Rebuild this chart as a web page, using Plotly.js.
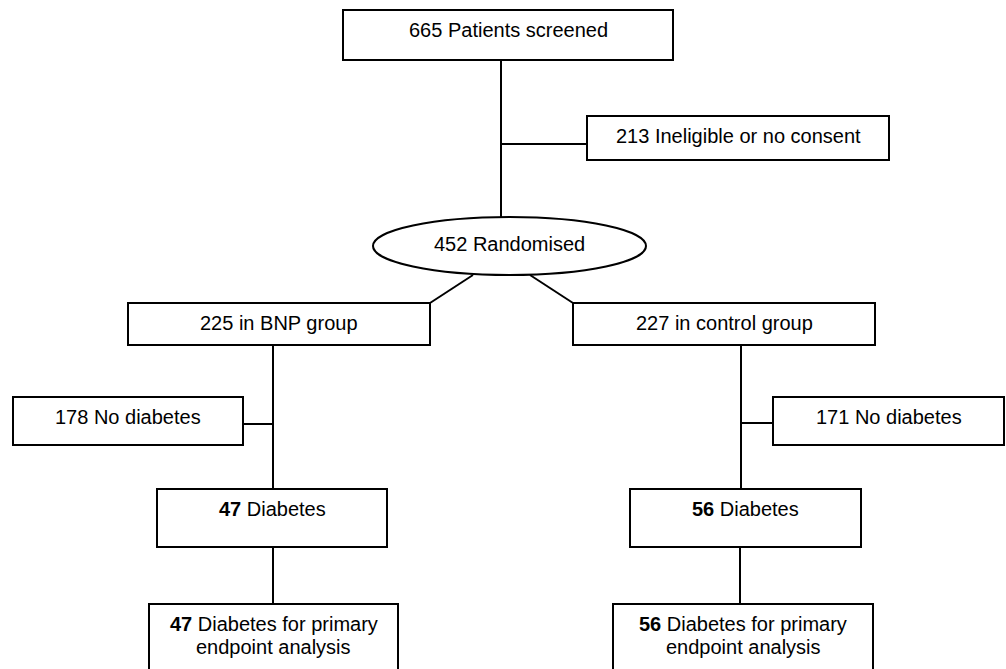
<!DOCTYPE html>
<html>
<head>
<meta charset="utf-8">
<script src="https://cdn.plot.ly/plotly-3.0.1.min.js"></script>
<style>html,body{margin:0;padding:0;background:#fff;}#chart{width:1006px;height:669px;}</style>
</head>
<body>
<div id="chart"></div>
<script>
// ---- data (numbers and texts of the flow diagram) ----
const nodeIds    = ['screened','excluded','randomised','bnp','control','bnpNoDm','ctlNoDm','bnpDm','ctlDm','bnpPrimary','ctlPrimary'];
const nodeCounts = [665, 213, 452, 225, 227, 178, 171, 47, 56, 47, 56];
const nodeLabels = ['Patients screened','Ineligible or no consent','Randomised','in BNP group','in control group',
                    'No diabetes','No diabetes','Diabetes','Diabetes','Diabetes for primary<br>endpoint analysis','Diabetes for primary<br>endpoint analysis'];
const countBold  = [false,false,false,false,false,false,false,true,true,true,true];

// ---- layout geometry (pixels in chart space) ----
const geom = {
  screened:   {x0:343, x1:673, y0:10,  y1:60,  ty:30,  shape:'rect'},
  excluded:   {x0:587, x1:889, y0:116, y1:160, ty:136, shape:'rect'},
  randomised: {x0:373, x1:646, y0:217, y1:275, ty:244, shape:'circle'},
  bnp:        {x0:128, x1:430, y0:303, y1:345, ty:323, shape:'rect'},
  control:    {x0:573, x1:875, y0:303, y1:345, ty:323, shape:'rect'},
  bnpNoDm:    {x0:13,  x1:243, y0:397, y1:445, ty:417, shape:'rect'},
  ctlNoDm:    {x0:773, x1:1004,y0:397, y1:445, ty:417, shape:'rect'},
  bnpDm:      {x0:157, x1:387, y0:489, y1:547, ty:509, shape:'rect'},
  ctlDm:      {x0:630, x1:861, y0:489, y1:547, ty:509, shape:'rect'},
  bnpPrimary: {x0:149, x1:398, y0:604, y1:690, ty:624, shape:'rect'},
  ctlPrimary: {x0:613, x1:873, y0:604, y1:690, ty:624, shape:'rect'}
};
const lineGap = 23;
const connectors = [
  [[501,60],[501,217]],
  [[501,144],[587,144]],
  [[473,275],[430,303]],
  [[530,275],[573,303]],
  [[273,345],[273,489]],
  [[243,424],[273,424]],
  [[741,345],[741,489]],
  [[741,423],[773,423]],
  [[273,547],[273,604]],
  [[740,547],[740,604]]
];

const lineStyle = {color:'#000', width:2};
const font = {family:'"Liberation Sans", Arial, sans-serif', size:20, color:'#000'};
const shapes = [];
const annotations = [];
nodeIds.forEach((id,i)=>{
  const g = geom[id];
  shapes.push({type:g.shape, xref:'x', yref:'y', x0:g.x0, x1:g.x1, y0:g.y0, y1:g.y1,
               line:lineStyle, fillcolor:'rgba(0,0,0,0)', layer:'above'});
  const num = countBold[i] ? '<b>'+nodeCounts[i]+'</b>' : String(nodeCounts[i]);
  const lines = (num+' '+nodeLabels[i]).split('<br>');
  lines.forEach((t,k)=>{
    annotations.push({xref:'x', yref:'y', x:(g.x0+g.x1)/2, y:g.ty + k*lineGap, text:t,
                      showarrow:false, xanchor:'center', yanchor:'middle', align:'center', font:font});
  });
});
connectors.forEach(c=>{
  shapes.push({type:'line', xref:'x', yref:'y', x0:c[0][0], y0:c[0][1], x1:c[1][0], y1:c[1][1], line:lineStyle});
});

const layout = {
  width:1006, height:669,
  margin:{l:0,r:0,t:0,b:0},
  paper_bgcolor:'#fff', plot_bgcolor:'#fff',
  xaxis:{range:[0,1006], visible:false, fixedrange:true},
  yaxis:{range:[669,0], visible:false, fixedrange:true},
  shapes:shapes, annotations:annotations, showlegend:false
};
Plotly.newPlot('chart', [], layout, {displayModeBar:false, staticPlot:true});
</script>
</body>
</html>
